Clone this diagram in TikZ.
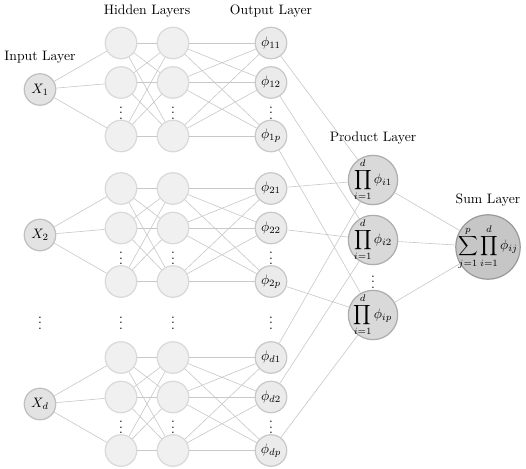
\documentclass[tikz,border=0pt]{standalone}
\usepackage{amsmath}
\definecolor{hidfill}{HTML}{F0F0F0}
\definecolor{hidborder}{HTML}{D9D9D9}
\definecolor{outfill}{HTML}{EBEBEB}
\definecolor{outborder}{HTML}{C8C8C8}
\definecolor{inpfill}{HTML}{E3E3E3}
\definecolor{inpborder}{HTML}{BFBFBF}
\definecolor{prodfill}{HTML}{D9D9D9}
\definecolor{prodborder}{HTML}{ADADAD}
\definecolor{sumfill}{HTML}{C6C6C6}
\definecolor{sumborder}{HTML}{9A9A9A}
\definecolor{edgecol}{HTML}{C8C8C8}
\begin{document}
\begin{tikzpicture}[x=0.73pt,y=-0.73pt,
  hid/.style={circle, draw=hidborder, fill=hidfill, line width=0.9pt, minimum size=23pt, inner sep=0pt},
  outn/.style={circle, draw=outborder, fill=outfill, line width=0.9pt, minimum size=23pt, inner sep=0pt},
  inp/.style={circle, draw=inpborder, fill=inpfill, line width=0.9pt, minimum size=23pt, inner sep=0pt},
  prodnode/.style={circle, draw=prodborder, fill=prodfill, line width=0.9pt, minimum size=36pt, inner sep=0pt},
  sumnode/.style={circle, draw=sumborder, fill=sumfill, line width=0.9pt, minimum size=47pt, inner sep=0pt},
  edge/.style={draw=edgecol, line width=0.45pt},
  ttl/.style={inner sep=0pt}]
\useasboundingbox (0,0) rectangle (526,468);
% titles
\node[ttl] (tin) at (40,57) {Input Layer};
\node[ttl] (thid) at (147,11) {Hidden Layers};
\node[ttl] (tout) at (271,11) {Output Layer};
\node[ttl] (tprod) at (373,138) {Product Layer};
\node[ttl] (tsum) at (488,200) {Sum Layer};
% groups
\foreach \g/\t/\lab in {1/43/1, 2/188.5/2, 3/357.5/d} {
  \node[inp] (x\g) at (40,\t+46.5) {$X_{\lab}$};
  \foreach \r/\dy/\k in {1/0/1, 2/39.5/2, 3/93/p} {
    \node[hid] (a\g\r) at (121,\t+\dy) {};
    \node[hid] (b\g\r) at (173,\t+\dy) {};
    \node[outn] (o\g\r) at (271,\t+\dy) {$\phi_{\lab\k}$};
  }
  \node (da\g) at (121,\t+66) {$\vdots$};
  \node (db\g) at (173,\t+66) {$\vdots$};
  \node (do\g) at (271,\t+66) {$\vdots$};
}
% dots between groups
\node (gx) at (40,319) {$\vdots$};
\node (ga) at (121,319) {$\vdots$};
\node (gb) at (173,319) {$\vdots$};
\node (go) at (271,319) {$\vdots$};
% product layer
\node[prodnode, label={[name=lp1]center:$\displaystyle\prod_{i=1}^{d}\phi_{i1}$}] (p1) at (373,180) {};
\node[prodnode, label={[name=lp2]center:$\displaystyle\prod_{i=1}^{d}\phi_{i2}$}] (p2) at (373,240) {};
\node[prodnode, label={[name=lp3]center:$\displaystyle\prod_{i=1}^{d}\phi_{ip}$}] (p3) at (373,315) {};
\node (dp) at (373,278) {$\vdots$};
% sum layer
\node[sumnode, label={[name=ls]center:$\displaystyle\sum_{j=1}^{p}\prod_{i=1}^{d}\phi_{ij}$}] (s) at (488,247) {};
% edges
\foreach \g in {1,2,3} {
  \foreach \r in {1,2,3} {
    \draw[edge] (x\g) -- (a\g\r);
    \draw[edge] (o\g\r) -- (p\r);
    \foreach \s in {1,2,3} {
      \draw[edge] (a\g\r) -- (b\g\s);
      \draw[edge] (b\g\r) -- (o\g\s);
    }
  }
}
\foreach \r in {1,2,3} { \draw[edge] (p\r) -- (s); }
\end{tikzpicture}
\end{document}
